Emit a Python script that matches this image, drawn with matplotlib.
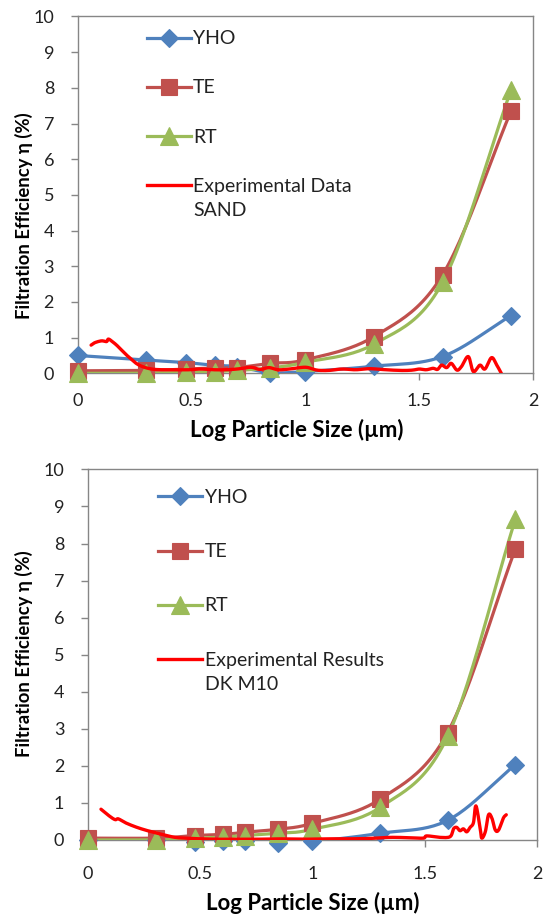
import numpy as np
import matplotlib
matplotlib.use("Agg")
import matplotlib.pyplot as plt
from matplotlib.lines import Line2D

plt.rcParams['font.family'] = ['Lato', 'DejaVu Sans']

# ---- data ----------------------------------------------------------------
log_size = [0.0, 0.301, 0.477, 0.602, 0.699, 0.845, 1.0, 1.301, 1.602, 1.903]

sand_yho = [0.50, 0.37, 0.30, 0.22, 0.19, 0.02, 0.05, 0.20, 0.47, 1.62]
sand_te = [0.07, 0.08, 0.12, 0.15, 0.16, 0.28, 0.38, 1.03, 2.76, 7.36]
sand_rt = [0.00, 0.00, 0.03, 0.05, 0.08, 0.15, 0.31, 0.82, 2.55, 7.95]

sand_exp_x = [0.059, 0.076, 0.105, 0.127, 0.135, 0.152, 0.171, 0.193, 0.215,
              0.237, 0.259, 0.288, 0.325, 0.369, 0.428, 0.486, 0.54, 0.60,
              0.645, 0.70, 0.76, 0.80, 0.84, 0.88, 0.93, 1.00, 1.05, 1.10,
              1.16, 1.22, 1.28, 1.33, 1.38, 1.43, 1.47, 1.50, 1.53, 1.56,
              1.58, 1.598, 1.62, 1.64, 1.665, 1.685, 1.715, 1.737, 1.766,
              1.788, 1.817, 1.84, 1.86]
sand_exp_y = [0.79, 0.86, 0.91, 0.89, 0.96, 0.89, 0.79, 0.65, 0.51,
              0.39, 0.27, 0.18, 0.12, 0.10, 0.10, 0.10, 0.12, 0.10,
              0.10, 0.12, 0.17, 0.11, 0.16, 0.10, 0.12, 0.17, 0.09, 0.08,
              0.12, 0.10, 0.13, 0.11, 0.09, 0.08, 0.09, 0.12, 0.10, 0.14,
              0.11, 0.23, 0.16, 0.28, 0.09, 0.19, 0.47, 0.05, 0.23,
              0.12, 0.44, 0.23, 0.00]

m10_yho = [0.00, 0.00, -0.05, -0.03, -0.04, -0.07, -0.04, 0.18, 0.53, 2.03]
m10_te = [0.05, 0.05, 0.12, 0.15, 0.21, 0.29, 0.45, 1.10, 2.90, 7.85]
m10_rt = [0.00, 0.00, 0.04, 0.08, 0.12, 0.18, 0.29, 0.88, 2.80, 8.65]

m10_exp_x = [0.058, 0.09, 0.12, 0.135, 0.165, 0.209, 0.254, 0.298, 0.343,
             0.388, 0.432, 0.506, 0.58, 0.655, 0.75, 0.85, 0.95, 1.05, 1.15,
             1.25, 1.345, 1.434, 1.494, 1.509, 1.568, 1.613, 1.628, 1.642,
             1.657, 1.672, 1.687, 1.702, 1.717, 1.728, 1.747, 1.754, 1.77,
             1.784, 1.799, 1.814, 1.829, 1.85, 1.863]
m10_exp_y = [0.83, 0.67, 0.55, 0.57, 0.47, 0.36, 0.27, 0.20, 0.13,
             0.07, 0.05, 0.03, 0.02, 0.02, 0.02, 0.03, 0.02, 0.03, 0.03,
             0.04, 0.07, 0.06, 0.05, 0.11, 0.07, 0.09, 0.30, 0.34,
             0.25, 0.30, 0.22, 0.34, 0.47, 0.92, 0.30, 0.05, 0.23,
             0.68, 0.59, 0.27, 0.27, 0.59, 0.68]

x_ticks = [0, 0.5, 1, 1.5, 2]
x_tick_labels = ['0', '0.5', '1', '1.5', '2']
y_ticks = list(range(0, 11))
y_tick_labels = [str(v) for v in y_ticks]

C_YHO = '#4F81BD'
C_TE = '#C0504D'
C_RT = '#9BBB59'
C_EXP = '#FF0000'
GRID = '#868686'
TXT = '#222222'


def smooth(x, y, n=24):
    """Catmull-Rom curve through the given points (for drawing only)."""
    p = np.column_stack([x, y]).astype(float)
    ext = np.vstack([2 * p[0] - p[1], p, 2 * p[-1] - p[-2]])
    t = np.linspace(0, 1, n, endpoint=False)[:, None]
    segs = []
    for i in range(1, len(ext) - 2):
        p0, p1, p2, p3 = ext[i - 1], ext[i], ext[i + 1], ext[i + 2]
        seg = 0.5 * ((2 * p1) + (-p0 + p2) * t
                     + (2 * p0 - 5 * p1 + 4 * p2 - p3) * t ** 2
                     + (-p0 + 3 * p1 - 3 * p2 + p3) * t ** 3)
        segs.append(seg)
    segs.append(p[-1:])
    c = np.vstack(segs)
    return c[:, 0], c[:, 1]


def panel(ax, yho, te, rt, ex, ey, exp_label, exp_sub, leg_anchor, spacing,
          xpad):
    lw = 2.3
    styles = [(yho, C_YHO, 'D', 9.5, 'YHO'),
              (te, C_TE, 's', 11.5, 'TE'),
              (rt, C_RT, '^', 13, 'RT')]
    handles = []
    for vals, col, mk, ms, lab in styles:
        sx, sy = smooth(log_size, vals)
        ax.plot(sx, sy, color=col, lw=lw, solid_capstyle='round', zorder=3)
        ax.plot(log_size, vals, ls='none', marker=mk, ms=ms, color=col,
                markeredgecolor=col, markeredgewidth=0.8, zorder=4,
                clip_on=False)
        handles.append(Line2D([], [], color=col, lw=lw, marker=mk, ms=ms,
                              markeredgecolor=col, markeredgewidth=0.8))
    sx, sy = smooth(ex, ey, n=8)
    ax.plot(sx, sy, color=C_EXP, lw=2.4, zorder=5, solid_capstyle='round')
    handles.append(Line2D([], [], color=C_EXP, lw=2.4))

    ax.set_xlim(0, 2)
    ax.set_ylim(0, 10)
    ax.set_xticks(x_ticks)
    ax.set_xticklabels(x_tick_labels)
    ax.set_yticks(y_ticks)
    ax.set_yticklabels(y_tick_labels)
    for s in ax.spines.values():
        s.set_color(GRID)
        s.set_linewidth(1.0)
    ax.tick_params(axis='both', colors=GRID, labelcolor=TXT,
                   labelsize=13, length=5, width=1.0, direction='out')
    ax.tick_params(axis='y', pad=12)
    ax.tick_params(axis='x', pad=xpad)

    leg = ax.legend(handles, ['YHO', 'TE', 'RT', exp_label],
                    loc='upper left', bbox_to_anchor=leg_anchor,
                    borderaxespad=0, borderpad=0, frameon=False,
                    fontsize=14, handlelength=2.25, handletextpad=0.13,
                    labelspacing=spacing, numpoints=1)
    leg.set_zorder(6)
    for t in leg.get_texts():
        t.set_color(TXT)
    # second line of the experimental entry, hung under its label
    ax.annotate(exp_sub, xy=(0, 0), xycoords=leg.get_texts()[3],
                xytext=(0, -5), textcoords='offset points',
                ha='left', va='top', fontsize=14, color=TXT, zorder=7)


fig = plt.figure(figsize=(5.43, 9.15), dpi=100)

ax1 = fig.add_axes([0.143, 0.592, 0.839, 0.390])
panel(ax1, sand_yho, sand_te, sand_rt, sand_exp_x, sand_exp_y,
      'Experimental Data', 'SAND', (0.152, 0.961), 1.65, 9)
ax1.set_ylabel('Filtration Efficiency η (%)', fontsize=13.3,
               fontweight='bold', ha='center', va='center')
ax1.yaxis.set_label_coords(-0.118, 0.441)
ax1.set_xlabel('Log Particle Size (µm)', fontsize=16, fontweight='bold',
               va='center')
ax1.xaxis.set_label_coords(0.48, -0.159)

ax2 = fig.add_axes([0.162, 0.082, 0.827, 0.405])
panel(ax2, m10_yho, m10_te, m10_rt, m10_exp_x, m10_exp_y,
      'Experimental Results', 'DK M10', (0.157, 0.9465), 1.91, 14)
ax2.set_ylabel('Filtration Efficiency η (%)', fontsize=13.3,
               fontweight='bold', ha='center', va='center')
ax2.yaxis.set_label_coords(-0.1425, 0.504)
ax2.set_xlabel('Log Particle Size (µm)', fontsize=16, fontweight='bold',
               va='center')
ax2.xaxis.set_label_coords(0.5, -0.17)

fig.savefig('out.png', dpi=100)
